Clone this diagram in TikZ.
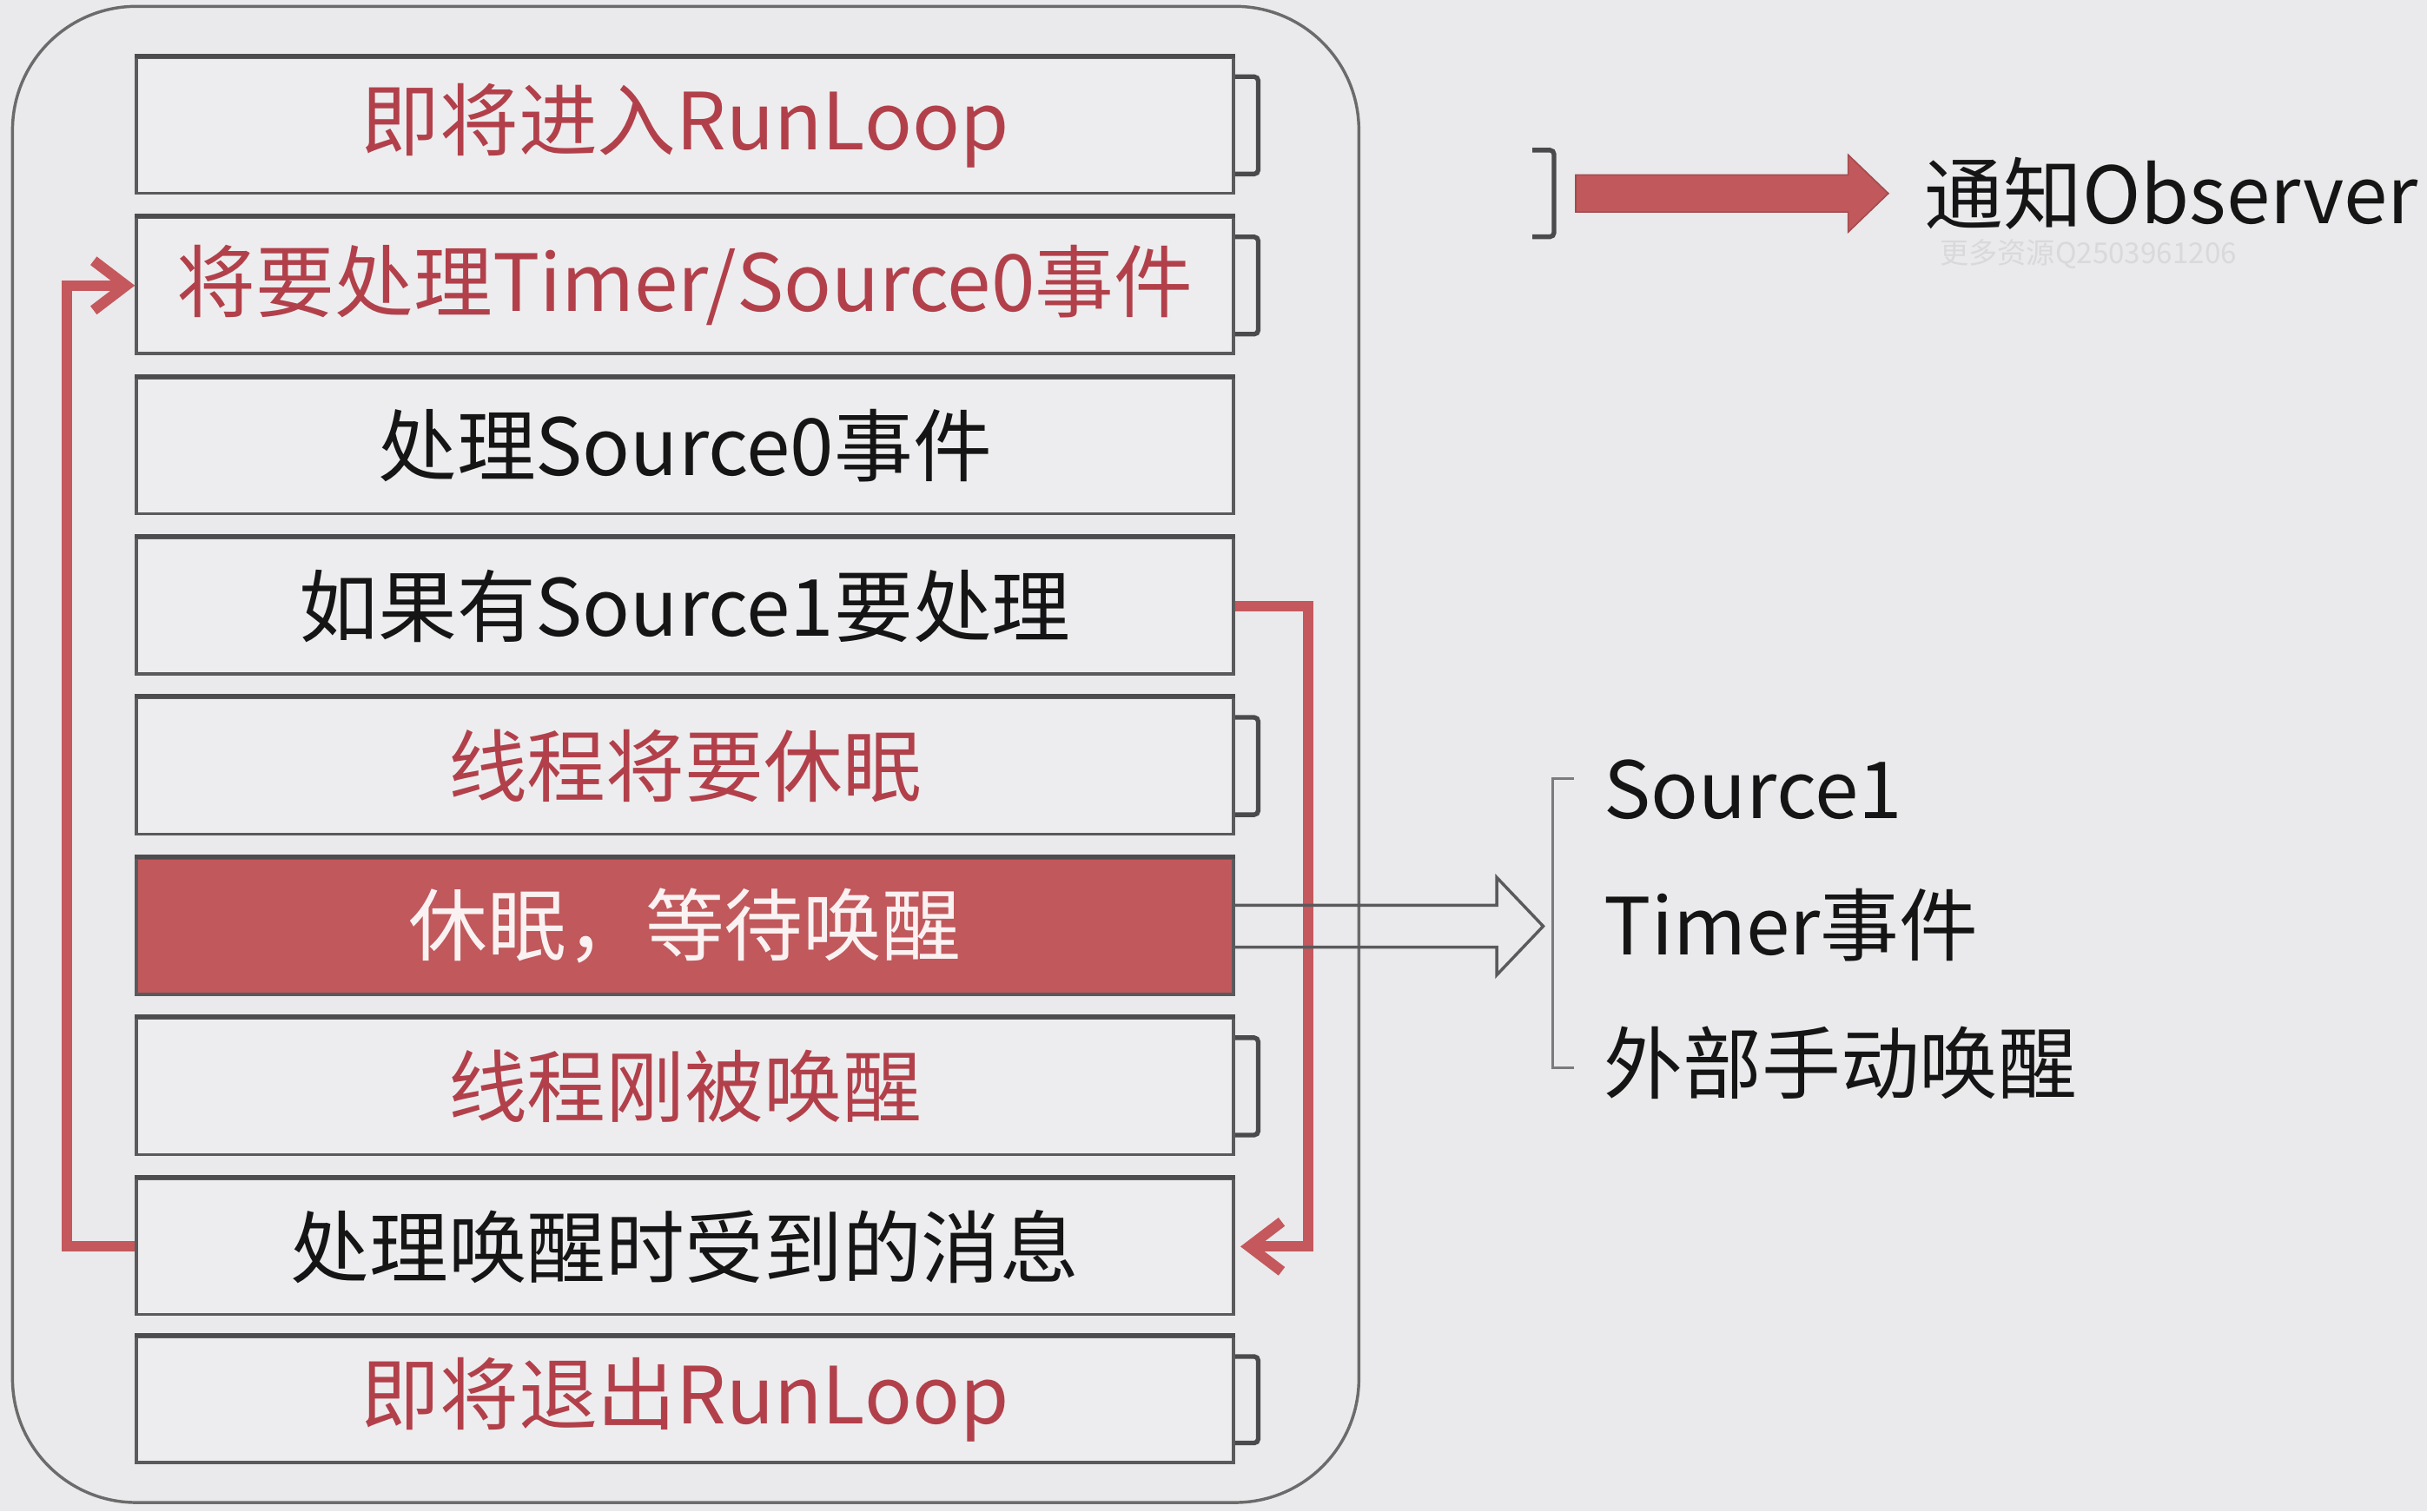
\documentclass[tikz,border=0pt]{standalone}
\usepackage{fontspec}
\setmainfont{Noto Sans CJK SC}
\usetikzlibrary{arrows.meta}
\definecolor{bg}{HTML}{EAEAEC}
\definecolor{boxfill}{HTML}{EDEDEF}
\definecolor{boxline}{HTML}{5A5A5C}
\definecolor{txtred}{HTML}{B2404A}
\definecolor{fillred}{HTML}{C0585C}
\definecolor{linered}{HTML}{C4585C}
\definecolor{brkgray}{HTML}{4A4A4C}
\definecolor{txtdark}{HTML}{151515}
\definecolor{wmark}{HTML}{D9D9DB}
\begin{document}
\begin{tikzpicture}[x=0.02cm,y=-0.02cm,
  box/.style={draw=boxline, line width=1.1pt, fill=boxfill, minimum width=14.18cm,
    minimum height=1.76cm, inner sep=0pt, font=\fontsize{29}{32}\selectfont, text=txtdark},
  redtxt/.style={text=txtred},
  brk/.style={draw=brkgray, line width=1.7pt, rounded corners=1.5pt},
  redline/.style={draw=linered, line width=3.9pt},
  hollow/.style={draw=boxline, line width=1.1pt},
  lbl/.style={font=\fontsize{29}{32}\selectfont, text=txtdark, inner sep=0pt, anchor=west},
  tip/.style={-{Straight Barb[length=0.42cm,width=0.64cm,line width=3.9pt]}}
]
\fill[bg] (0,0) rectangle (1568,976.5);
\useasboundingbox (0,0) rectangle (1568,976.5);

% outer frame
\node[draw=boxline!90, line width=1.1pt, rounded corners=1.6cm, minimum width=17.4cm,
  minimum height=19.34cm, inner sep=0pt] (frame) at (443,487.5) {};

% step boxes
\node[box, redtxt] (b1) at (442.5,81)    {即将进入RunLoop};
\node[box, redtxt] (b2) at (442.5,184.5) {将要处理Timer/Source0事件};
\node[box]         (b3) at (442.5,288)   {处理Source0事件};
\node[box]         (b4) at (442.5,391.5) {如果有Source1要处理};
\node[box, redtxt] (b5) at (442.5,495)   {线程将要休眠};
\node[box, fill=fillred, text=white!92!fillred] (b6) at (442.5,598.5) {休眠，等待唤醒};
\node[box, redtxt] (b7) at (442.5,702)   {线程刚被唤醒};
\node[box]         (b8) at (442.5,805.5) {处理唤醒时受到的消息};
\node[box, redtxt, minimum height=1.62cm] (b9) at (442.5,904.5) {即将退出RunLoop};

% darker top edges of the boxes
\foreach \b in {b1,b2,b3,b4,b5,b6,b7,b8,b9}{
  \draw[boxline!85!black, line width=1.6pt] (\b.north west) -- (\b.north east);
}

% observer brackets
\foreach \b in {b1,b2,b5,b7,b9}{
  \draw[brk] ([yshift=-0.27cm]\b.north east) -- ++(0.3cm,0) |- ([yshift=0.27cm]\b.south east);
}

% red loop connectors
\draw[redline, tip] (b8.west) -- (43,805.5) |- (b2.west);
\draw[redline, tip] (b4.east) -- (845,391.5) |- ([xshift=2pt]b8.east);

% hollow arrow from sleeping box
\coordinate (htip) at (997,598.5);
\draw[hollow, line join=miter] ([yshift=0.27cm]b6.east) -- (967,585) -- (967,567) -- (htip)
  -- (967,630) -- (967,612) -- ([yshift=-0.27cm]b6.east);

% wake-up sources
\draw[draw=boxline!80, line width=0.9pt] (1017,503) -- (1003,503) -- (1003,690) -- (1017,690);
\node[lbl] (s1) at (1036,510) {Source1};
\node[lbl] (s2) at (1036,598) {Timer事件};
\node[lbl] (s3) at (1036,687) {外部手动唤醒};

% legend
\draw[brk] (990,97) -- (1004,97) -- (1004,153) -- (990,153);
\coordinate (ls) at (1018,125);
\node[lbl] (obs) at (1243,125) {通知Observer};
\fill[fillred, draw=fillred!85!black, line width=0.5pt]
  (1018,113) -- (1194,113) -- (1194,100) -- (1220,125) -- (1194,150) -- (1194,137) -- (1018,137) -- cycle;
\node[anchor=west, inner sep=0pt, text=wmark, font=\fontsize{10.6}{12}\selectfont] (wm) at (1253,164) {更多资源Q2503961206};
\end{tikzpicture}
\end{document}
